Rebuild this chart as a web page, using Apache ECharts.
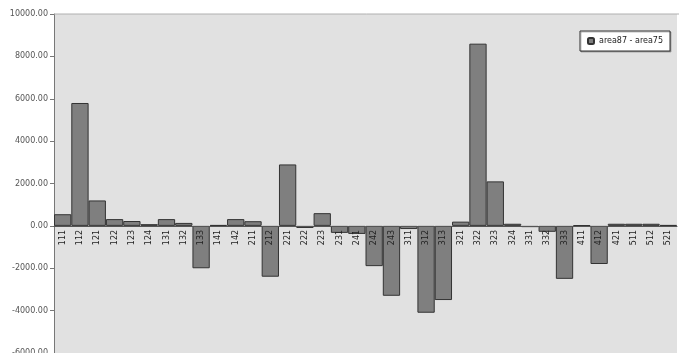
<!DOCTYPE html>
<html>
<head>
<meta charset="utf-8">
<script src="https://cdn.jsdelivr.net/npm/echarts@6/dist/echarts.min.js"></script>
<style>
  html, body { margin: 0; padding: 0; background: #ffffff; }
  #chart { width: 679px; height: 353px; }
</style>
</head>
<body>
<div id="chart"></div>
<script>
// Land cover classes (CORINE level 3 codes)
const categories = [
  '111', '112', '121', '122', '123', '124', '131', '132', '133', '141', '142',
  '211', '212', '221', '222', '223', '231', '241', '242', '243',
  '311', '312', '313', '321', '322', '323', '324', '331', '332', '333',
  '411', '412', '421', '511', '512', '521'
];

// Area change between the two surveys
const seriesName = 'area87 - area75';
const areaChange = [
  550, 5800, 1200, 320, 230, 80, 320, 140, -2000, 40, 320,
  220, -2400, 2900, -100, 600, -330, -380, -1900, -3300,
  -150, -4100, -3500, 200, 8600, 2100, 100, -60, -280, -2500,
  30, -1800, 100, 100, 100, 40
];

// Value axis range and step
const yMin = -6000;
const yMax = 10000;
const yStep = 2000;

// Plot box inside the 679x353 canvas
const gridTop = 14;
const gridBottom = 0;
const gridHeight = 353 - gridTop - gridBottom;
// Lift the category axis from the bottom edge up to the zero line
const zeroLift = -gridHeight * (0 - yMin) / (yMax - yMin);

const chart = echarts.init(document.getElementById('chart'), null, { renderer: 'canvas' });

chart.setOption({
  animation: false,
  backgroundColor: '#ffffff',
  textStyle: { fontFamily: 'DejaVu Sans' },
  grid: {
    left: 54,
    right: 2,
    top: gridTop,
    bottom: gridBottom,
    outerBoundsMode: 'none',
    containLabel: false,
    show: true,
    backgroundColor: '#e1e1e1',
    borderWidth: 0
  },
  legend: {
    data: [seriesName],
    right: 9,
    top: 31,
    itemWidth: 6,
    itemHeight: 6,
    itemGap: 4,
    padding: [6, 7, 6, 7],
    backgroundColor: '#ffffff',
    borderColor: '#333333',
    borderWidth: 1,
    shadowColor: 'rgba(0,0,0,0.25)',
    shadowOffsetX: 1,
    shadowOffsetY: 1,
    textStyle: { fontSize: 8, color: '#222222' }
  },
  xAxis: {
    type: 'category',
    data: categories,
    z: 10,
    offset: zeroLift,
    axisLine: { onZero: false, lineStyle: { color: '#555555', width: 1 } },
    axisTick: { show: false },
    axisLabel: {
      interval: 0,
      rotate: 90,
      fontSize: 8,
      color: '#222222',
      margin: 4
    },
    splitLine: { show: false }
  },
  yAxis: {
    type: 'value',
    min: yMin,
    max: yMax,
    interval: yStep,
    axisLine: { show: true, lineStyle: { color: '#777777' } },
    axisTick: { show: true, length: 4, lineStyle: { color: '#777777' } },
    axisLabel: {
      fontSize: 8,
      color: '#555555',
      margin: 6,
      formatter: v => v.toFixed(2)
    },
    splitLine: { show: false }
  },
  graphic: [{
    type: 'line',
    shape: { x1: 54, y1: gridTop, x2: 679, y2: gridTop },
    style: { stroke: '#b0b0b0', lineWidth: 1 },
    z: 5
  }],
  series: [{
    name: seriesName,
    type: 'bar',
    data: areaChange,
    barCategoryGap: '0%',
    itemStyle: {
      color: '#7f7f7f',
      borderColor: '#333333',
      borderWidth: 1
    }
  }]
});
</script>
</body>
</html>
